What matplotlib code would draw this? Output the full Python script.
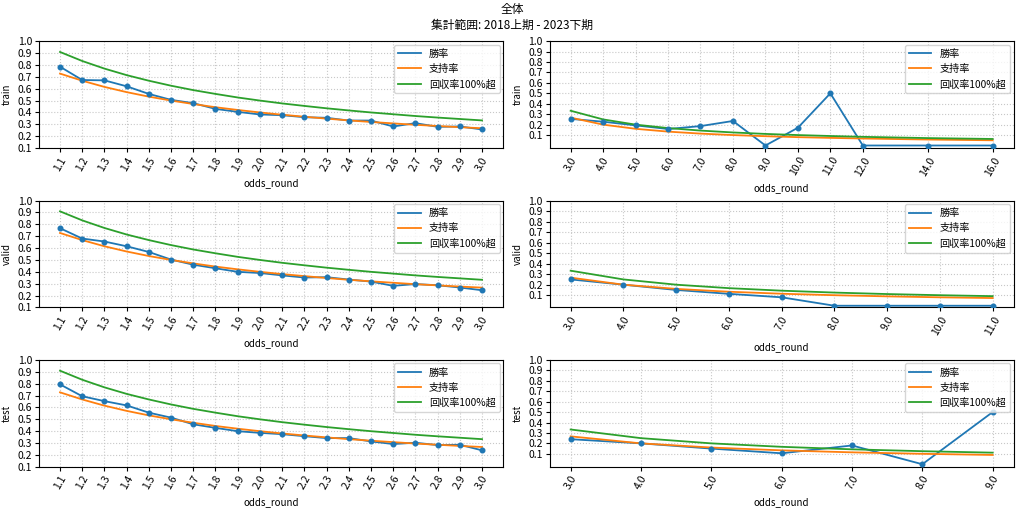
import numpy as np
import matplotlib
matplotlib.use("Agg")
import matplotlib.pyplot as plt

plt.rcParams["font.family"] = ["Noto Sans CJK JP", "DejaVu Sans"]

# ---- data ----
odds_low = [1.1, 1.2, 1.3, 1.4, 1.5, 1.6, 1.7, 1.8, 1.9, 2.0,
            2.1, 2.2, 2.3, 2.4, 2.5, 2.6, 2.7, 2.8, 2.9, 3.0]
support_low = [0.727, 0.667, 0.615, 0.571, 0.533, 0.500, 0.471, 0.444, 0.421, 0.400,
               0.381, 0.364, 0.348, 0.333, 0.320, 0.308, 0.296, 0.286, 0.276, 0.267]
breakeven_low = [0.909, 0.833, 0.769, 0.714, 0.667, 0.625, 0.588, 0.556, 0.526, 0.500,
                 0.476, 0.455, 0.435, 0.417, 0.400, 0.385, 0.370, 0.357, 0.345, 0.333]

win_train_low = [0.785, 0.673, 0.670, 0.620, 0.556, 0.506, 0.478, 0.430, 0.405, 0.383,
                 0.377, 0.360, 0.355, 0.332, 0.332, 0.282, 0.310, 0.279, 0.282, 0.257]
win_valid_low = [0.767, 0.680, 0.655, 0.615, 0.567, 0.503, 0.460, 0.430, 0.400, 0.390,
                 0.370, 0.352, 0.355, 0.335, 0.318, 0.282, 0.297, 0.287, 0.268, 0.245]
win_test_low = [0.794, 0.694, 0.653, 0.617, 0.556, 0.514, 0.458, 0.428, 0.400, 0.386,
                0.375, 0.358, 0.342, 0.342, 0.314, 0.292, 0.303, 0.283, 0.286, 0.239]

odds_train_high = [3.0, 4.0, 5.0, 6.0, 7.0, 8.0, 9.0, 10.0, 11.0, 12.0, 14.0, 16.0]
win_train_high = [0.255, 0.228, 0.193, 0.158, 0.186, 0.235, 0.0, 0.170, 0.500, 0.0, 0.0, 0.0]
support_train_high = [0.267, 0.200, 0.160, 0.133, 0.114, 0.100, 0.089, 0.080, 0.073, 0.067, 0.057, 0.050]
breakeven_train_high = [0.333, 0.250, 0.200, 0.167, 0.143, 0.125, 0.111, 0.100, 0.091, 0.083, 0.071, 0.0625]

odds_valid_high = [3.0, 4.0, 5.0, 6.0, 7.0, 8.0, 9.0, 10.0, 11.0]
win_valid_high = [0.250, 0.200, 0.150, 0.113, 0.080, 0.0, 0.0, 0.0, 0.0]
support_valid_high = [0.267, 0.200, 0.160, 0.133, 0.114, 0.100, 0.089, 0.080, 0.073]
breakeven_valid_high = [0.333, 0.250, 0.200, 0.167, 0.143, 0.125, 0.111, 0.100, 0.091]

odds_test_high = [3.0, 4.0, 5.0, 6.0, 7.0, 8.0, 9.0]
win_test_high = [0.240, 0.200, 0.150, 0.105, 0.180, 0.0, 0.500]
support_test_high = [0.267, 0.200, 0.160, 0.133, 0.114, 0.100, 0.089]
breakeven_test_high = [0.333, 0.250, 0.200, 0.167, 0.143, 0.125, 0.111]

YTICKS = np.arange(0.1, 1.01, 0.1)
LABELS = ["勝率", "支持率", "回収率100%超"]

panels = [
    ("train", odds_low, win_train_low, support_low, breakeven_low,
     odds_train_high, win_train_high, support_train_high, breakeven_train_high),
    ("valid", odds_low, win_valid_low, support_low, breakeven_low,
     odds_valid_high, win_valid_high, support_valid_high, breakeven_valid_high),
    ("test", odds_low, win_test_low, support_low, breakeven_low,
     odds_test_high, win_test_high, support_test_high, breakeven_test_high),
]


def draw(ax, x, win, support, breakeven, name):
    ax.plot(x, win, color="#1f77b4", lw=1.3, label=LABELS[0])
    ax.scatter(x, win, color="#1f77b4", s=11, zorder=3)
    ax.plot(x, support, color="#ff7f0e", lw=1.3, label=LABELS[1])
    ax.plot(x, breakeven, color="#2ca02c", lw=1.3, label=LABELS[2])
    ax.set_xticks(x)
    ax.set_xticklabels([f"{v:.1f}" for v in x], rotation=60, fontsize=7.5)
    ax.set_yticks(YTICKS)
    ax.set_yticklabels([f"{v:.1f}" for v in YTICKS], fontsize=7.5)
    ax.set_ylim(top=1.0)
    ax.set_ylabel(name, fontsize=7)
    ax.set_xlabel("odds_round", fontsize=7)
    ax.grid(True, linestyle=":", color="#c8c8c8", linewidth=0.8)
    ax.legend(loc="upper right", fontsize=7.3, borderaxespad=0.35,
              handlelength=2.2)
    ax.tick_params(length=3, pad=2)


fig, axes = plt.subplots(3, 2, figsize=(10.24, 5.08), dpi=100)
fig.subplots_adjust(left=0.038, right=0.99, top=0.919, bottom=0.081,
                    wspace=0.1, hspace=0.49)

for row, p in enumerate(panels):
    name = p[0]
    draw(axes[row, 0], p[1], p[2], p[3], p[4], name)
    draw(axes[row, 1], p[5], p[6], p[7], p[8], name)

fig.suptitle("全体\n集計範囲: 2018上期 - 2023下期", fontsize=8.5, y=0.995,
             linespacing=1.3)

fig.savefig("out.png", dpi=100)
